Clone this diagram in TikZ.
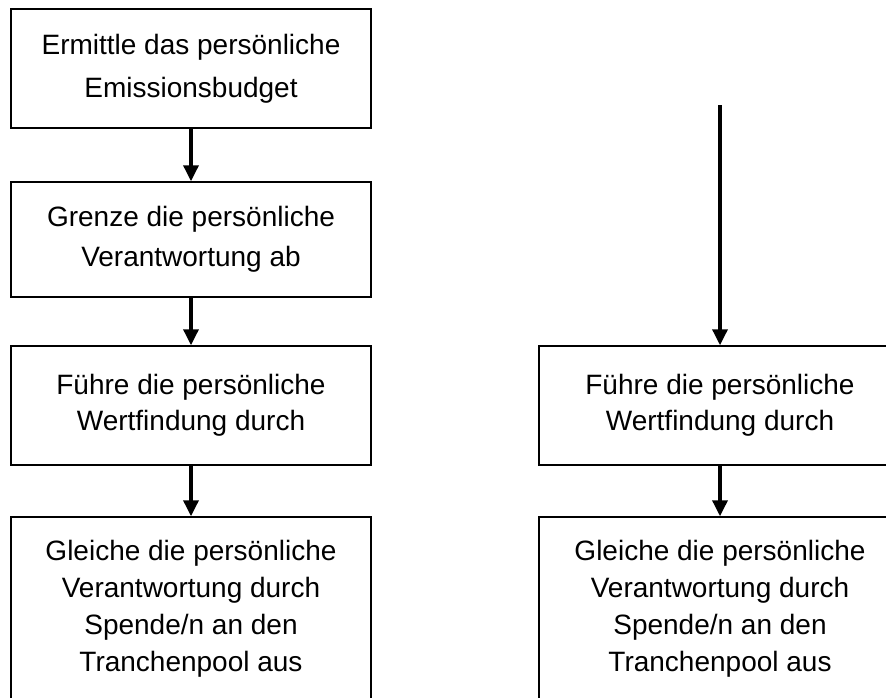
\documentclass[tikz,border=0pt]{standalone}
\usepackage{fontspec}
\setmainfont{Liberation Sans}
\usetikzlibrary{arrows.meta}
\tikzset{
  flowbox/.style={draw=black, line width=1.5pt, rectangle, inner sep=0pt,
    minimum width=360pt, align=center, text=black},
  flowarrow/.style={line width=3.5pt, -{Triangle[width=15pt,length=16pt]}}
}
\begin{document}
\begin{tikzpicture}[x=1pt,y=-1pt]
\clip (0,0) rectangle (886,697);
\fill[white] (0,0) rectangle (886,697);
% left column
\node[flowbox, minimum height=119pt, font=\fontsize{28}{43}\selectfont] (b1) at (191,68.5)
  {Ermittle das persönliche\\Emissionsbudget};
\node[flowbox, minimum height=115pt, font=\fontsize{28}{40}\selectfont] (b2) at (191,239.5)
  {Grenze die persönliche\\Verantwortung ab};
\node[flowbox, minimum height=119pt, font=\fontsize{28}{36}\selectfont] (b3) at (191,405.5)
  {Führe die persönliche\\Wertfindung durch};
\node[flowbox, minimum height=184pt, font=\fontsize{28}{37}\selectfont] (b4) at (191,609)
  {Gleiche die persönliche\\Verantwortung durch\\Spende/n an den\\Tranchenpool aus};
% right column
\node[flowbox, minimum width=362pt, minimum height=119pt, font=\fontsize{28}{36}\selectfont] (r3) at (720,405.5)
  {Führe die persönliche\\Wertfindung durch};
\node[flowbox, minimum width=362pt, minimum height=184pt, font=\fontsize{28}{37}\selectfont] (r4) at (720,609)
  {Gleiche die persönliche\\Verantwortung durch\\Spende/n an den\\Tranchenpool aus};
\coordinate (rstart) at (720,105);
% connectors
\draw[flowarrow] (b1.south) -- (b2.north);
\draw[flowarrow] (b2.south) -- (b3.north);
\draw[flowarrow] (b3.south) -- (b4.north);
\draw[flowarrow] (rstart) -- (r3.north);
\draw[flowarrow] (r3.south) -- (r4.north);
\end{tikzpicture}
\end{document}
